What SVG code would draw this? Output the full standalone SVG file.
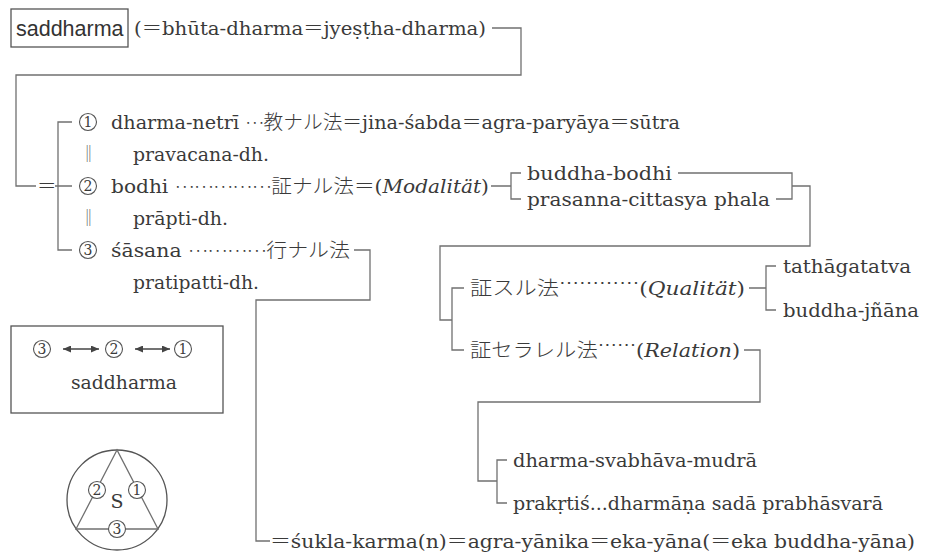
<svg xmlns="http://www.w3.org/2000/svg" width="937" height="560" viewBox="0 0 937 560">
  <style>
    .t { font-family: "DejaVu Serif", "Liberation Serif", serif; font-size: 19px; fill: #3a3a3a; }
    .sans { font-family: "Liberation Sans", "DejaVu Sans", sans-serif; font-size: 21.5px; fill: #333; }
    .j { font-family: "Noto Sans CJK JP", sans-serif; font-size: 19.5px; font-weight: 300; }
    .d { font-family: "Noto Sans CJK JP", sans-serif; font-size: 17.6px; font-weight: 300; }
    .bar { font-family: "Noto Sans CJK JP", sans-serif; font-size: 17px; fill: #555; }
    .i { font-style: italic; }
    .ln { fill: none; stroke: #707070; stroke-width: 1.3; }
    .box { fill: none; stroke: #555; stroke-width: 1.3; }
    .cn { fill: #fff; stroke: #555; stroke-width: 1.1; }
    .num { font-family: "DejaVu Serif", "Liberation Serif", serif; font-size: 14px; fill: #3a3a3a; text-anchor: middle; }
    .arr { stroke: #444; stroke-width: 1.5; }
  </style>
  <defs>
    <marker id="head" viewBox="0 0 8 7" refX="8" refY="3.5" markerWidth="8" markerHeight="7" markerUnits="userSpaceOnUse" orient="auto-start-reverse">
      <path d="M0,0 L8,3.5 L0,7 z" fill="#444"/>
    </marker>
  </defs>

  <!-- connectors -->
  <g id="connectors">
    <path class="ln" d="M492,28 H521 V75 H16 V186 H36"/>
    <path class="ln" d="M72,122 H58 V250 H72 M55,186 H72"/>
    <path class="ln" d="M491,186 H511 M521,173 H511 V199 H521"/>
    <path class="ln" d="M678,173 H792 V199 H776 M792,186 H810 V246 H440 V320 H452"/>
    <path class="ln" d="M464,288 H452 V350 H464"/>
    <path class="ln" d="M749,288 H766 M776,266 H766 V310 H776"/>
    <path class="ln" d="M744,350 H760 V402 H478 V481 H497 M507,460 H497 V503 H507"/>
    <path class="ln" d="M354,250 H370 V300 H256 V541 H270"/>
  </g>

  <!-- heading -->
  <g id="title">
    <rect class="box" x="11" y="9" width="117" height="38"/>
    <text class="sans" x="16" y="36">saddharma</text>
    <text class="t" x="134" y="35" textLength="352" lengthAdjust="spacingAndGlyphs">(<tspan class="j">＝</tspan>bhūta-dharma<tspan class="j">＝</tspan>jyeṣṭha-dharma)</text>
  </g>

  <g id="equals">
    <text x="37" y="193"><tspan class="j" font-size="18" fill="#3a3a3a">＝</tspan></text>
  </g>

  <!-- 1: teaching -->
  <g id="n1">
    <circle class="cn" cx="88" cy="122" r="8.5"/>
    <text class="num" x="88" y="127">1</text>
    <text class="t" x="111" y="129" textLength="569" lengthAdjust="spacingAndGlyphs">dharma-netrī <tspan class="d" dy="-5">…</tspan><tspan class="j" dy="5">教ナル法＝</tspan>jina-śabda<tspan class="j">＝</tspan>agra-paryāya<tspan class="j">＝</tspan>sūtra</text>
    <text class="bar" x="80" y="160">‖</text>
    <text class="t" x="133" y="161" textLength="136" lengthAdjust="spacingAndGlyphs">pravacana-dh.</text>
  </g>

  <!-- 2: realisation -->
  <g id="n2">
    <circle class="cn" cx="88" cy="186" r="8.5"/>
    <text class="num" x="88" y="191">2</text>
    <text class="t" x="111" y="193" textLength="378" lengthAdjust="spacingAndGlyphs">bodhi <tspan class="d" dy="-5">……………</tspan><tspan class="j" dy="5">証ナル法＝</tspan>(<tspan class="i">Modalität</tspan>)</text>
    <text class="bar" x="80" y="224">‖</text>
    <text class="t" x="133" y="225" textLength="95" lengthAdjust="spacingAndGlyphs">prāpti-dh.</text>
  </g>

  <g id="n2a">
    <text class="t" x="527" y="180" textLength="145" lengthAdjust="spacingAndGlyphs">buddha-bodhi</text>
  </g>
  <g id="n2b">
    <text class="t" x="527" y="206" textLength="243" lengthAdjust="spacingAndGlyphs">prasanna-cittasya phala</text>
  </g>

  <!-- 3: practice -->
  <g id="n3">
    <circle class="cn" cx="88" cy="250" r="8.5"/>
    <text class="num" x="88" y="255">3</text>
    <text class="t" x="111" y="257" textLength="239" lengthAdjust="spacingAndGlyphs">śāsana <tspan class="d" dy="-5">…………</tspan><tspan class="j" dy="5">行ナル法</tspan></text>
    <text class="t" x="133" y="289" textLength="126" lengthAdjust="spacingAndGlyphs">pratipatti-dh.</text>
  </g>

  <g id="quality">
    <text class="t" x="470" y="295" textLength="275" lengthAdjust="spacingAndGlyphs"><tspan class="j">証スル法</tspan><tspan class="d" dy="-5">…………</tspan><tspan dy="5">(</tspan><tspan class="i">Qualität</tspan>)</text>
  </g>
  <g id="q1">
    <text class="t" x="783" y="273" textLength="128" lengthAdjust="spacingAndGlyphs">tathāgatatva</text>
  </g>
  <g id="q2">
    <text class="t" x="783" y="317" textLength="136" lengthAdjust="spacingAndGlyphs">buddha-jñāna</text>
  </g>

  <g id="relation">
    <text class="t" x="470" y="357" textLength="270" lengthAdjust="spacingAndGlyphs"><tspan class="j">証セラレル法</tspan><tspan class="d" dy="-5">……</tspan><tspan dy="5">(</tspan><tspan class="i">Relation</tspan>)</text>
  </g>
  <g id="r1">
    <text class="t" x="513" y="467" textLength="244" lengthAdjust="spacingAndGlyphs">dharma-svabhāva-mudrā</text>
  </g>
  <g id="r2">
    <text class="t" x="513" y="510" textLength="370" lengthAdjust="spacingAndGlyphs">prakṛtiś...dharmāṇa sadā prabhāsvarā</text>
  </g>

  <g id="vehicle">
    <text class="t" x="270" y="548" textLength="645" lengthAdjust="spacingAndGlyphs"><tspan class="j">＝</tspan>śukla-karma(n)<tspan class="j">＝</tspan>agra-yānika<tspan class="j">＝</tspan>eka-yāna(<tspan class="j">＝</tspan>eka buddha-yāna)</text>
  </g>

  <!-- mutual relation of the three -->
  <g id="legend">
    <rect class="box" x="11" y="326" width="212" height="87"/>
    <circle class="cn" cx="42" cy="349" r="8.5"/>
    <text class="num" x="42" y="354">3</text>
    <circle class="cn" cx="114" cy="349" r="8.5"/>
    <text class="num" x="114" y="354">2</text>
    <circle class="cn" cx="183" cy="349" r="8.5"/>
    <text class="num" x="183" y="354">1</text>
    <line class="arr" x1="63" y1="349" x2="99" y2="349" marker-start="url(#head)" marker-end="url(#head)"/>
    <line class="arr" x1="135" y1="349" x2="170" y2="349" marker-start="url(#head)" marker-end="url(#head)"/>
    <text class="t" x="71" y="389" textLength="106" lengthAdjust="spacingAndGlyphs">saddharma</text>
  </g>

  <g id="triad">
    <circle class="box" cx="117" cy="500" r="50"/>
    <path class="ln" d="M117,450 L76,529 L158,529 Z" stroke="#555"/>
    <circle class="cn" cx="97" cy="490" r="8.5"/>
    <text class="num" x="97" y="495">2</text>
    <circle class="cn" cx="137" cy="490" r="8.5"/>
    <text class="num" x="137" y="495">1</text>
    <circle class="cn" cx="117" cy="529" r="8.5"/>
    <text class="num" x="117" y="534">3</text>
    <text class="t" x="117" y="508" text-anchor="middle" font-size="21">S</text>
  </g>
</svg>
